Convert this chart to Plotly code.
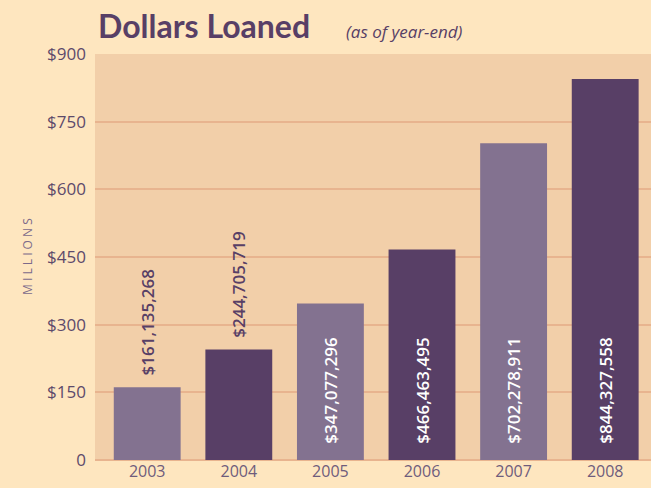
import plotly.graph_objects as go

years = ["2003", "2004", "2005", "2006", "2007", "2008"]
loaned_millions = [161.135268, 244.705719, 347.077296, 466.463495, 702.278911, 844.327558]
value_labels = ["$161,135,268", "$244,705,719", "$347,077,296", "$466,463,495", "$702,278,911", "$844,327,558"]
tick_vals = [0, 150, 300, 450, 600, 750, 900]
tick_text = ["0", "$150", "$300", "$450", "$600", "$750", "$900"]

light = "#837290"
dark = "#583F66"
bar_colors = [light, dark, light, dark, light, dark]
text_pos = ["outside", "outside", "inside", "inside", "inside", "inside"]
text_colors = [dark, dark, "white", "white", "white", "white"]
NB = "\u00a0"
shown_text = [(NB * 2 if p == "outside" else NB * 3) + t for t, p in zip(value_labels, text_pos)]

W, H = 651, 488
L, R, T, B = 95, 0, 54, 28
pw, ph = W - L - R, H - T - B


def px(x):
    return (x - L) / pw


def py(y):
    return (H - B - y) / ph


fig = go.Figure(go.Bar(
    x=years, y=loaned_millions,
    marker=dict(color=bar_colors, line=dict(width=0)),
    text=shown_text, textposition=text_pos, textangle=-90,
    insidetextanchor="start", constraintext="none", cliponaxis=False,
    textfont=dict(family="Open Sans", size=17, color=text_colors, weight=600),
    hoverinfo="skip",
))

fig.update_layout(
    width=W, height=H,
    margin=dict(l=L, r=R, t=T, b=B, autoexpand=False),
    paper_bgcolor="#FEE6BF", plot_bgcolor="#F2CFA9",
    bargap=0.27, showlegend=False,
    font=dict(family="Open Sans", color="#5D4A6B"),
    xaxis=dict(range=[-0.57, 5.5], showgrid=False, ticks="", showline=False,
               tickfont=dict(size=16, color="#6E5C7C")),
    yaxis=dict(range=[0, 900], tickvals=tick_vals, ticktext=tick_text,
               showgrid=True, gridcolor="#E8B48F", gridwidth=1.5,
               zeroline=True, zerolinecolor="#E8B48F", zerolinewidth=1.5,
               ticks="", tickfont=dict(size=17, color="#5D4A6B"), ticklabelstandoff=8),
    annotations=[
        dict(text="<b>Dollars Loaned</b>", x=px(96), y=py(47), xref="paper", yref="paper",
             showarrow=False, xanchor="left", yanchor="bottom",
             font=dict(family="Lato", size=32, color=dark)),
        dict(text="<i>(as of year-end)</i>", x=px(344), y=py(45), xref="paper", yref="paper",
             showarrow=False, xanchor="left", yanchor="bottom",
             font=dict(family="Open Sans", size=17, color=dark)),
        dict(text="M I L L I O N S", x=px(27), y=py(257), xref="paper", yref="paper",
             textangle=-90, showarrow=False, xanchor="center", yanchor="middle",
             font=dict(family="Open Sans", size=12, color="#7C6A8A")),
    ],
)

fig.write_html("out.html", config={"displayModeBar": False},
               post_script="document.body.style.margin='0';document.body.style.overflow='hidden';")
